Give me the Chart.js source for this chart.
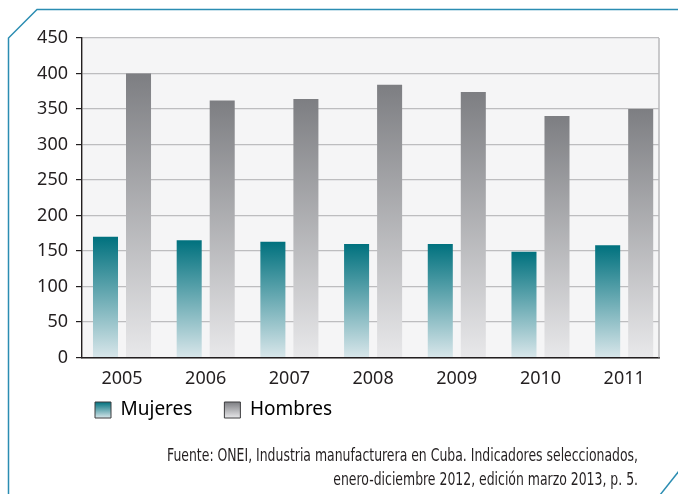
<!DOCTYPE html>
<html><head><meta charset="utf-8">
<script src="https://cdn.jsdelivr.net/npm/chart.js@4"></script>
<style>
html,body{margin:0;padding:0;background:#fff;overflow:hidden;}
#wrap{position:relative;width:678px;height:494px;}
canvas{display:block;}
</style>
</head><body>
<div id="wrap"><canvas id="c" width="678" height="494" style="width:678px;height:494px"></canvas></div>
<script>
// ---- data ----
const categories = ['2005','2006','2007','2008','2009','2010','2011'];
const mujeres = [170, 165, 163, 160, 160, 149, 158];
const hombres = [400, 362, 364, 384, 374, 340, 350];
const seriesNames = ['Mujeres', 'Hombres'];
const yMin = 0, yMax = 450, yStep = 50;
const sourceLines = [
  'Fuente: ONEI, Industria manufacturera en Cuba. Indicadores seleccionados,',
  'enero-diciembre 2012, edición marzo 2013, p. 5.'
];

// ---- styles ----
const FONT = '"Noto Sans", "Open Sans", sans-serif';
const TEXT = '#231f20';
const grads = [
  ['#00717e', '#d8e6ea'],
  ['#7d7e82', '#e8e8ea']
];
function pickFont(list, size) {
  const c = document.createElement('canvas').getContext('2d');
  const s = 'Fuente: ONEI, Industria manufacturera';
  c.font = size + 'px monospace'; const m = c.measureText(s).width;
  c.font = size + 'px serif'; const sf = c.measureText(s).width;
  for (const f of list) {
    c.font = size + 'px "' + f + '", monospace'; const a = c.measureText(s).width;
    c.font = size + 'px "' + f + '", serif'; const b = c.measureText(s).width;
    if (a !== m && b !== sf) return '"' + f + '"';
  }
  return '"Noto Sans", sans-serif';
}
const FOOT_FONT = pickFont(['Liberation Sans Narrow', 'DejaVu Sans Condensed', 'Roboto Condensed'], 18);

function vGrad(ctx, top, bottom, pair) {
  const g = ctx.createLinearGradient(0, top, 0, bottom);
  g.addColorStop(0, pair[0]);
  g.addColorStop(1, pair[1]);
  return g;
}
function barColor(i) {
  return (c) => {
    const chart = c.chart;
    if (!chart.chartArea || !c.parsed || !chart.scales.y) return grads[i][0];
    const y = chart.scales.y;
    const top = y.getPixelForValue(c.parsed.y);
    const bot = y.getPixelForValue(0);
    if (!isFinite(top) || !isFinite(bot) || top === bot) return grads[i][0];
    return vGrad(chart.ctx, top, bot, grads[i]);
  };
}

const LEG_PAD = 32, LEG_BOX = 16, LEG_FS = 19;

const decor = {
  id: 'decor',
  afterLayout(chart) {
    // place legend row under the axis labels
    chart.legend.left = 95 - LEG_PAD;
    chart.legend.top = 402 - LEG_PAD - (LEG_FS - LEG_BOX) / 2;
  },
  beforeDraw(chart) {
    const {ctx, chartArea: a} = chart;
    ctx.save();
    ctx.fillStyle = '#ffffff';
    ctx.fillRect(0, 0, chart.width, chart.height);
    ctx.fillStyle = '#f5f5f6';
    ctx.fillRect(a.left, a.top, a.right - a.left, a.bottom - a.top);
    // frame
    ctx.strokeStyle = '#2b8db2';
    ctx.lineWidth = 1.5;
    ctx.beginPath();
    ctx.moveTo(chart.width + 2, 9.5);
    ctx.lineTo(37, 9.5);
    ctx.lineTo(8.5, 38);
    ctx.lineTo(8.5, chart.height + 2);
    ctx.stroke();
    ctx.beginPath();
    ctx.moveTo(660, chart.height + 1);
    ctx.lineTo(chart.width + 1, 471);
    ctx.stroke();
    ctx.restore();
  },
  beforeDatasetsDraw(chart) {
    const {ctx, chartArea: a} = chart;
    ctx.save();
    ctx.strokeStyle = '#b9b9bb';
    ctx.lineWidth = 1.5;
    ctx.beginPath();
    ctx.moveTo(a.right, a.top);
    ctx.lineTo(a.right, a.bottom);
    ctx.stroke();
    ctx.restore();
  },
  afterDraw(chart) {
    const ctx = chart.ctx;
    ctx.save();
    ctx.font = '18px ' + FOOT_FONT;
    ctx.fillStyle = TEXT;
    ctx.textAlign = 'right';
    ctx.textBaseline = 'alphabetic';
    const w = ctx.measureText(sourceLines[0]).width;
    const sx = 471 / w;
    const baselines = [461, 485];
    sourceLines.forEach((line, k) => {
      ctx.save();
      ctx.translate(638, baselines[k]);
      ctx.scale(sx, 1);
      ctx.fillText(line, 0, 0);
      ctx.restore();
    });
    ctx.restore();
  }
};

new Chart(document.getElementById('c'), {
  type: 'bar',
  data: {
    datasets: [
      {
        label: seriesNames[0],
        data: categories.map((c, i) => ({x: i, y: mujeres[i]})),
        backgroundColor: barColor(0),
        borderWidth: 0
      },
      {
        label: seriesNames[1],
        data: categories.map((c, i) => ({x: i, y: hombres[i]})),
        backgroundColor: barColor(1),
        borderWidth: 0
      }
    ]
  },
  options: {
    responsive: false,
    animation: false,
    devicePixelRatio: 1,
    categoryPercentage: 0.789,
    barPercentage: 0.758,
    layout: {padding: {left: 0, top: 38, right: 19, bottom: 45.5}},
    scales: {
      x: {
        type: 'linear',
        offset: false,
        min: -0.478,
        max: 6.416,
        grid: {display: false, offset: false},
        border: {display: true, color: TEXT, width: 1.4},
        ticks: {
          stepSize: 1,
          includeBounds: false,
          autoSkip: false,
          maxRotation: 0,
          padding: 3,
          color: TEXT,
          font: {family: FONT, size: 18},
          callback: (v) => Number.isInteger(v) ? categories[v] : ''
        },
        afterFit(s) { s.height = 30; }
      },
      y: {
        min: yMin,
        max: yMax,
        grid: {color: '#bdbdbf', lineWidth: 1.2, tickColor: TEXT, tickLength: 6, drawTicks: true},
        border: {display: true, color: TEXT, width: 1.4},
        ticks: {
          stepSize: yStep,
          padding: 8,
          color: TEXT,
          font: {family: FONT, size: 18}
        },
        afterFit(s) { s.width = 82; }
      }
    },
    plugins: {
      tooltip: {enabled: false},
      title: {display: false},
      legend: {
        display: true,
        position: 'bottom',
        align: 'start',
        labels: {
          boxWidth: LEG_BOX,
          boxHeight: LEG_BOX,
          padding: LEG_PAD,
          color: TEXT,
          font: {family: FONT, size: LEG_FS},
          generateLabels(chart) {
            const lg = chart.legend;
            const t = (lg && isFinite(lg.top)) ? lg.top + LEG_PAD + (LEG_FS - LEG_BOX) / 2 : null;
            return chart.data.datasets.map((ds, i) => ({
              text: ds.label,
              fillStyle: t === null ? grads[i][0] : vGrad(chart.ctx, t, t + LEG_BOX, grads[i]),
              strokeStyle: '#3c3c3e',
              lineWidth: 1,
              hidden: false,
              datasetIndex: i
            }));
          }
        }
      }
    }
  },
  plugins: [decor]
});
</script>
</body></html>
